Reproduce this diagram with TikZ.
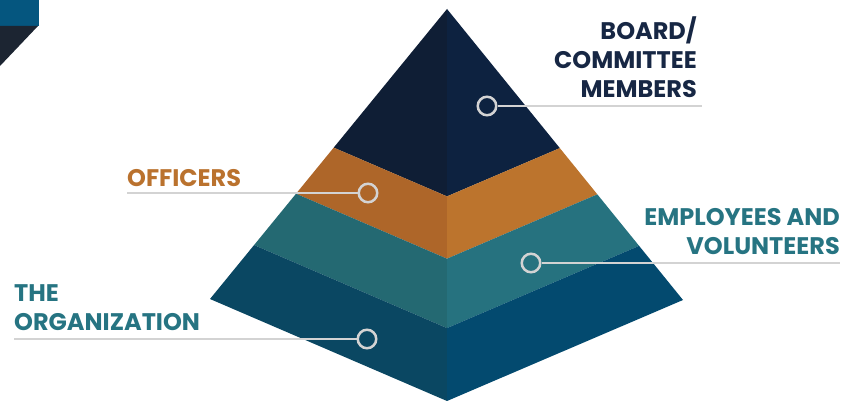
\documentclass[tikz,border=0pt]{standalone}
\usepackage{fontspec}
\setmainfont{Poppins}
\usepackage{tikz}
\usetikzlibrary{calc}

% face colours, left (shaded) and right (lit)
\definecolor{navyL}{HTML}{0F1E35}
\definecolor{navyR}{HTML}{0D2240}
\definecolor{amberL}{HTML}{AE6629}
\definecolor{amberR}{HTML}{BC742D}
\definecolor{tealL}{HTML}{246972}
\definecolor{tealR}{HTML}{26727F}
\definecolor{deepL}{HTML}{0A4762}
\definecolor{deepR}{HTML}{034A6F}
% text and leader colours
\definecolor{boardText}{HTML}{172744}
\definecolor{officerText}{HTML}{BA722E}
\definecolor{staffText}{HTML}{267482}
\definecolor{lineGray}{HTML}{D3D3D3}
\definecolor{cornerBlue}{HTML}{05567F}
\definecolor{cornerDark}{HTML}{1C2532}

\begin{document}
\begin{tikzpicture}[x=1pt,y=-1pt,
    marker/.style={circle,draw=lineGray,line width=2.5pt,minimum size=18.5pt,inner sep=0pt},
    leader/.style={draw=lineGray,line width=2.5pt},
    tierlabel/.style={font=\bfseries\fontsize{24}{29}\selectfont,inner sep=0pt}]

    \useasboundingbox (0,0) rectangle (844,403);

    % Corner tab
    \fill[cornerBlue] (0,0) rectangle (39,26);
    \fill[cornerDark] (0,26) -- (38,26) -- (0,66) -- cycle;

    % Pyramid corners
    \coordinate (A) at (447,9);   % apex
    \coordinate (L) at (210,299); % left
    \coordinate (R) at (683,300); % right
    \coordinate (B) at (447,401); % front

    % Left faces
    \fill[navyL] (A) -- ($(A)!0.478!(L)$) -- ($(A)!0.478!(B)$) -- cycle;
    \fill[amberL] ($(A)!0.478!(L)$) -- ($(A)!0.637!(L)$) -- ($(A)!0.637!(B)$) -- ($(A)!0.478!(B)$) -- cycle;
    \fill[tealL] ($(A)!0.637!(L)$) -- ($(A)!0.814!(L)$) -- ($(A)!0.814!(B)$) -- ($(A)!0.637!(B)$) -- cycle;
    \fill[deepL] ($(A)!0.814!(L)$) -- (L) -- (B) -- ($(A)!0.814!(B)$) -- cycle;

    % Right faces
    \fill[navyR] (A) -- ($(A)!0.478!(R)$) -- ($(A)!0.478!(B)$) -- cycle;
    \fill[amberR] ($(A)!0.478!(R)$) -- ($(A)!0.637!(R)$) -- ($(A)!0.637!(B)$) -- ($(A)!0.478!(B)$) -- cycle;
    \fill[tealR] ($(A)!0.637!(R)$) -- ($(A)!0.814!(R)$) -- ($(A)!0.814!(B)$) -- ($(A)!0.637!(B)$) -- cycle;
    \fill[deepR] ($(A)!0.814!(R)$) -- (R) -- (B) -- ($(A)!0.814!(B)$) -- cycle;

    % Markers on the tiers
    \node[marker] (boardDot) at (487,106) {};
    \node[marker] (officerDot) at (368,193) {};
    \node[marker] (staffDot) at (531,263) {};
    \node[marker] (orgDot) at (367,339) {};

    % Tier labels
    \node[tierlabel,text=boardText,align=right,anchor=north east] (board) at (697,17) {BOARD/\\COMMITTEE\\MEMBERS};
    \node[tierlabel,text=officerText,anchor=north west] (officers) at (127,169) {OFFICERS};
    \node[tierlabel,text=staffText,align=right,anchor=north east] (staff) at (840,208) {EMPLOYEES AND\\VOLUNTEERS};
    \node[tierlabel,text=staffText,align=left,anchor=north west] (org) at (14,284) {THE\\ORGANIZATION};

    % Leader lines
    \coordinate (boardEnd) at (702,106);
    \coordinate (officerEnd) at (127,193);
    \coordinate (staffEnd) at (840,263);
    \coordinate (orgEnd) at (14,339);
    \draw[leader] (boardDot) -- (boardEnd);
    \draw[leader] (officerDot) -- (officerEnd);
    \draw[leader] (staffDot) -- (staffEnd);
    \draw[leader] (orgDot) -- (orgEnd);
\end{tikzpicture}
\end{document}
